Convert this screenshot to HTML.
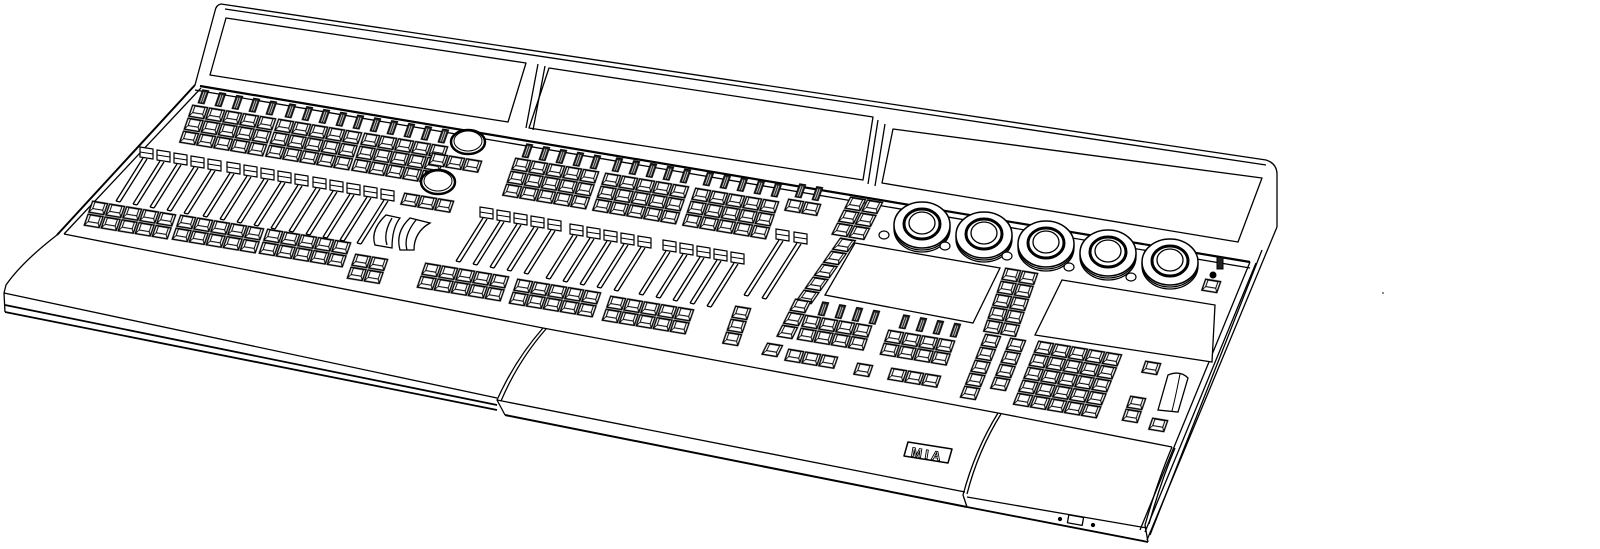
<!DOCTYPE html>
<html><head><meta charset="utf-8">
<style>html,body{margin:0;padding:0;background:#fff;width:1600px;height:549px;overflow:hidden}</style>
</head><body>
<svg width="1600" height="549" viewBox="0 0 1600 549" xmlns="http://www.w3.org/2000/svg">
<defs>
<pattern id="btn" patternUnits="userSpaceOnUse" width="17" height="13">
<rect x="1" y="1" width="15" height="11" fill="#fff" stroke="#000" stroke-width="1.4"/>
<rect x="3.5" y="1.5" width="10" height="6.5" fill="none" stroke="#000" stroke-width="1"/>
<line x1="1" y1="12" x2="3.5" y2="8" stroke="#000" stroke-width="0.9"/>
<line x1="16" y1="12" x2="13.5" y2="8" stroke="#000" stroke-width="0.9"/>
</pattern>
<pattern id="enc" patternUnits="userSpaceOnUse" width="17" height="16">
<rect x="5" y="1" width="6" height="13" fill="#222" stroke="#000"/>
<line x1="7" y1="3" x2="7" y2="13" stroke="#fff" stroke-width="0.7"/>
<line x1="9" y1="3" x2="9" y2="13" stroke="#fff" stroke-width="0.7"/>
</pattern>
<g id="fd">
<path d="M3 11 L-24 54 M7 12 L-20 55 M-24 54 L-20 55" stroke="#000" stroke-width="1.3" fill="none"/>
<path d="M0 0 L13 2 L13 12 L0 10 Z" fill="#fff" stroke="#000" stroke-width="1.2"/>
<path d="M0 5 L13 7" stroke="#000"/>
</g>
<g id="fdl">
<path d="M3 11 L-32 66 M7 12 L-28 67 M-32 66 L-28 67" stroke="#000" stroke-width="1.3" fill="none"/>
<path d="M0 0 L13 2 L13 12 L0 10 Z" fill="#fff" stroke="#000" stroke-width="1.2"/>
<path d="M0 5 L13 7" stroke="#000"/>
</g>
<g id="knob">
<ellipse cx="0" cy="4" rx="28" ry="23" fill="#fff" stroke="#000" stroke-width="1.3"/>
<ellipse cx="0" cy="2" rx="28" ry="23" fill="#fff" stroke="#000" stroke-width="1.3"/>
<ellipse cx="0" cy="0" rx="28" ry="23" fill="#fff" stroke="#000" stroke-width="1.5"/>
<ellipse cx="0" cy="-1" rx="18" ry="15" fill="#fff" stroke="#000" stroke-width="3"/>
<ellipse cx="0" cy="-2" rx="13" ry="11" fill="#fff" stroke="#000" stroke-width="1.3"/>
</g>
</defs>
<g fill="none" stroke="#000" stroke-width="1.3" stroke-linejoin="round">
<!-- housing / back -->
<path d="M221 4 L1266 160 Q1276 163 1277 173 L1277 227"/>
<path d="M221 4 Q216 5 215 11 L195 85"/>
<path d="M225 9 L1266 165"/>
<path d="M200 86 L1250 262" stroke-width="2.2"/>
<path d="M195 90 L1250 268"/>
<!-- screens -->
<path d="M226 18 L526 63 L508 122 L210 75 Z"/>
<path d="M538 64 L526 128 M545 66 L533 130"/>
<path d="M549 68 L873 117 L863 180 L529 128 Z"/>
<path d="M878 120 L868 184 M885 124 L875 186"/>
<path d="M893 129 L1262 178 L1238 242 L882 183 Z"/>
<!-- left surface edge and left palm rest -->
<path d="M195 85 L57 235" stroke-width="2"/>
<path d="M201 88 L64 234"/>
<path d="M57 235 Q22 262 6 285 L4 293 L5 312"/>
<path d="M64 234 L543 328"/>
<path d="M4 293 L497 398"/>
<path d="M5 305 L497 405 M5 312 L497 410" stroke-width="1.8"/>
<!-- middle palm rest -->
<path d="M543 328 Q515 360 497 400 L505 415"/>
<path d="M546 329 Q518 361 501 401"/>
<path d="M543 328 L998 413"/>
<path d="M497 400 L965 492"/>
<path d="M505 415 L967 507" stroke-width="2"/>
<!-- right palm rest -->
<path d="M998 413 Q975 450 963 495 L967 507"/>
<path d="M1001 414 Q978 451 967 494"/>
<path d="M998 413 L1172 447"/>
<path d="M1172 447 Q1158 480 1145 525 L1148 542"/>
<path d="M1175 448 Q1161 481 1149 524"/>
<path d="M967 497 L1147 528"/>
<path d="M967 507 L1148 542" stroke-width="1.8"/>
<rect x="1068" y="516" width="15" height="8" transform="rotate(10 1075 520)"/>
<circle cx="1060" cy="519" r="1.5" fill="#000"/>
<circle cx="1093" cy="525" r="1.5" fill="#000"/>
<!-- right side -->
<path d="M1277 227 L1147 540"/>
<path d="M1250 262 L1140 530"/>
<path d="M1256 263 L1145 532"/>
<path d="M1262 250 L1150 535"/>
<!-- MA logo -->
<path d="M908 442 L952 449 L948 463 L904 456 Z" stroke-width="1.5"/>
</g>
<text x="911" y="459" font-family="Liberation Sans, sans-serif" font-size="13" font-weight="bold" fill="#fff" stroke="#000" stroke-width="0.9" letter-spacing="3" transform="rotate(9 928 455)">MIA</text>

<!-- LEFT SECTION -->
<g>
<rect transform="matrix(1,0.165,-0.35,1,198,88)" width="85" height="16" fill="url(#enc)"/>
<rect transform="matrix(1,0.165,-0.35,1,285,102)" width="85" height="16" fill="url(#enc)"/>
<rect transform="matrix(1,0.165,-0.35,1,370,116)" width="85" height="16" fill="url(#enc)"/>
<rect transform="matrix(1,0.165,-0.35,1,192,104)" width="85" height="39" fill="url(#btn)"/>
<rect transform="matrix(1,0.165,-0.35,1,278,118)" width="85" height="39" fill="url(#btn)"/>
<rect transform="matrix(1,0.165,-0.35,1,364,132)" width="85" height="39" fill="url(#btn)"/>
<rect transform="matrix(1,0.165,-0.35,1,92,200)" width="85" height="26" fill="url(#btn)"/>
<rect transform="matrix(1,0.165,-0.35,1,180,214)" width="85" height="26" fill="url(#btn)"/>
<rect transform="matrix(1,0.165,-0.35,1,267,228)" width="85" height="26" fill="url(#btn)"/>
<rect transform="matrix(1,0.165,-0.35,1,432,152)" width="51" height="13" fill="url(#btn)"/>
<rect transform="matrix(1,0.165,-0.35,1,404,192)" width="51" height="13" fill="url(#btn)"/>
<rect transform="matrix(1,0.165,-0.35,1,355,253)" width="34" height="26" fill="url(#btn)"/>
<ellipse cx="468" cy="142" rx="17" ry="12" fill="#fff" stroke="#000" stroke-width="2.5"/>
<ellipse cx="468" cy="141" rx="14" ry="10" fill="none" stroke="#000" stroke-width="1"/>
<ellipse cx="438" cy="182" rx="17" ry="12" fill="#fff" stroke="#000" stroke-width="2.5"/>
<ellipse cx="438" cy="181" rx="14" ry="10" fill="none" stroke="#000" stroke-width="1"/>
<path d="M386 215 Q370 230 375 245 L392 248 Q392 228 400 218 Z M392 218 Q383 233 387 245" fill="#fff" stroke="#000" stroke-width="1.3"/>
<path d="M410 218 Q395 232 400 250 L414 250 Q414 232 430 223 Z M416 220 Q403 236 407 250" fill="#fff" stroke="#000" stroke-width="1.3"/>
<use href="#fd" x="140" y="147"/><use href="#fd" x="157" y="150"/><use href="#fd" x="174" y="153"/><use href="#fd" x="191" y="156"/><use href="#fd" x="208" y="159"/>
<use href="#fd" x="227" y="162"/><use href="#fd" x="244" y="165"/><use href="#fd" x="261" y="168"/><use href="#fd" x="278" y="171"/><use href="#fd" x="295" y="174"/>
<use href="#fd" x="313" y="177"/><use href="#fd" x="330" y="180"/><use href="#fd" x="347" y="183"/><use href="#fd" x="364" y="186"/><use href="#fd" x="381" y="189"/>
</g>

<!-- MIDDLE SECTION -->
<g>
<rect transform="matrix(1,0.165,-0.35,1,522,142)" width="85" height="16" fill="url(#enc)"/>
<rect transform="matrix(1,0.165,-0.35,1,612,156)" width="85" height="16" fill="url(#enc)"/>
<rect transform="matrix(1,0.165,-0.35,1,703,170)" width="85" height="16" fill="url(#enc)"/>
<rect transform="matrix(1,0.165,-0.35,1,795,182)" width="34" height="16" fill="url(#enc)"/>
<rect transform="matrix(1,0.165,-0.35,1,515,157)" width="85" height="39" fill="url(#btn)"/>
<rect transform="matrix(1,0.165,-0.35,1,605,172)" width="85" height="39" fill="url(#btn)"/>
<rect transform="matrix(1,0.165,-0.35,1,695,187)" width="85" height="39" fill="url(#btn)"/>
<rect transform="matrix(1,0.165,-0.35,1,788,198)" width="34" height="13" fill="url(#btn)"/>
<rect transform="matrix(1,0.165,-0.35,1,425,262)" width="85" height="26" fill="url(#btn)"/>
<rect transform="matrix(1,0.165,-0.35,1,517,278)" width="85" height="26" fill="url(#btn)"/>
<rect transform="matrix(1,0.165,-0.35,1,610,295)" width="85" height="26" fill="url(#btn)"/>
<rect transform="matrix(1,0.165,-0.35,1,735,305)" width="17" height="39" fill="url(#btn)"/>
<use href="#fd" x="480" y="207"/><use href="#fd" x="497" y="210"/><use href="#fd" x="514" y="213"/><use href="#fd" x="531" y="216"/><use href="#fd" x="548" y="219"/>
<use href="#fd" x="570" y="224"/><use href="#fd" x="587" y="227"/><use href="#fd" x="604" y="230"/><use href="#fd" x="621" y="233"/><use href="#fd" x="638" y="236"/>
<use href="#fd" x="663" y="240"/><use href="#fd" x="680" y="243"/><use href="#fd" x="697" y="246"/><use href="#fd" x="714" y="249"/><use href="#fd" x="731" y="252"/>
<use href="#fdl" x="776" y="229"/><use href="#fdl" x="794" y="232"/>
</g>

<!-- RIGHT SECTION -->
<g>
<rect transform="matrix(1,0.165,-0.5,1,850,196)" width="34" height="39" fill="url(#btn)"/>
<rect transform="matrix(1,0.165,-0.7,1,840,237)" width="17" height="65" fill="url(#btn)"/>
<rect transform="matrix(1,0.165,-0.5,1,795,298)" width="17" height="39" fill="url(#btn)"/>
<rect transform="matrix(1,0.165,-0.5,1,767,342)" width="17" height="13" fill="url(#btn)"/>
<path d="M855 243 L1000 268 L973 323 L825 295 Z" fill="#fff" stroke="#000" stroke-width="1.3"/>
<path d="M1062 280 L1215 305 L1212 362 L1035 335 Z" fill="#fff" stroke="#000" stroke-width="1.3"/>
<rect transform="matrix(1,0.165,-0.35,1,818,300)" width="68" height="16" fill="url(#enc)"/>
<rect transform="matrix(1,0.165,-0.35,1,899,313)" width="68" height="16" fill="url(#enc)"/>
<rect transform="matrix(1,0.165,-0.35,1,805,314)" width="68" height="26" fill="url(#btn)"/>
<rect transform="matrix(1,0.165,-0.35,1,888,329)" width="68" height="26" fill="url(#btn)"/>
<rect transform="matrix(1,0.165,-0.35,1,788,348)" width="51" height="13" fill="url(#btn)"/>
<rect transform="matrix(1,0.165,-0.35,1,857,362)" width="17" height="13" fill="url(#btn)"/>
<rect transform="matrix(1,0.165,-0.35,1,891,367)" width="51" height="13" fill="url(#btn)"/>
<rect transform="matrix(1,0.165,-0.35,1,1005,267)" width="34" height="65" fill="url(#btn)"/>
<rect transform="matrix(1,0.165,-0.4,1,985,333)" width="17" height="65" fill="url(#btn)"/>
<rect transform="matrix(1,0.165,-0.4,1,1010,337)" width="17" height="52" fill="url(#btn)"/>
<rect transform="matrix(1,0.165,-0.4,1,1038,340)" width="85" height="65" fill="url(#btn)"/>
<rect transform="matrix(1,0.165,-0.35,1,1145,360)" width="17" height="13" fill="url(#btn)"/>
<rect transform="matrix(1,0.165,-0.35,1,1130,395)" width="17" height="26" fill="url(#btn)"/>
<rect transform="matrix(1,0.165,-0.35,1,1152,417)" width="17" height="13" fill="url(#btn)"/>
<rect transform="matrix(1,0.165,-0.35,1,1205,278)" width="17" height="13" fill="url(#btn)"/>
<path d="M1168 375 Q1180 370 1188 378 L1178 412 L1158 410 Z" fill="#fff" stroke="#000" stroke-width="1.3"/>
<path d="M1180 374 Q1176 395 1172 411" fill="none" stroke="#000"/>
<rect x="1217" y="257" width="6" height="12" fill="#222" stroke="#000"/>
<circle cx="1213" cy="275" r="3.5" fill="#000"/>
<use href="#knob" x="922" y="225"/>
<use href="#knob" x="984" y="235"/>
<use href="#knob" x="1046" y="244"/>
<use href="#knob" x="1108" y="253"/>
<use href="#knob" x="1170" y="262"/>
<g fill="#fff" stroke="#000" stroke-width="1.2">
<ellipse cx="884" cy="235" rx="5" ry="4"/><ellipse cx="945" cy="246" rx="5" ry="4"/>
<ellipse cx="1007" cy="256" rx="5" ry="4"/><ellipse cx="1069" cy="267" rx="5" ry="4"/>
<ellipse cx="1131" cy="277" rx="5" ry="4"/>
</g>
</g>
<circle cx="1383" cy="293" r="0.8" fill="#000"/>
</svg>
</body></html>
